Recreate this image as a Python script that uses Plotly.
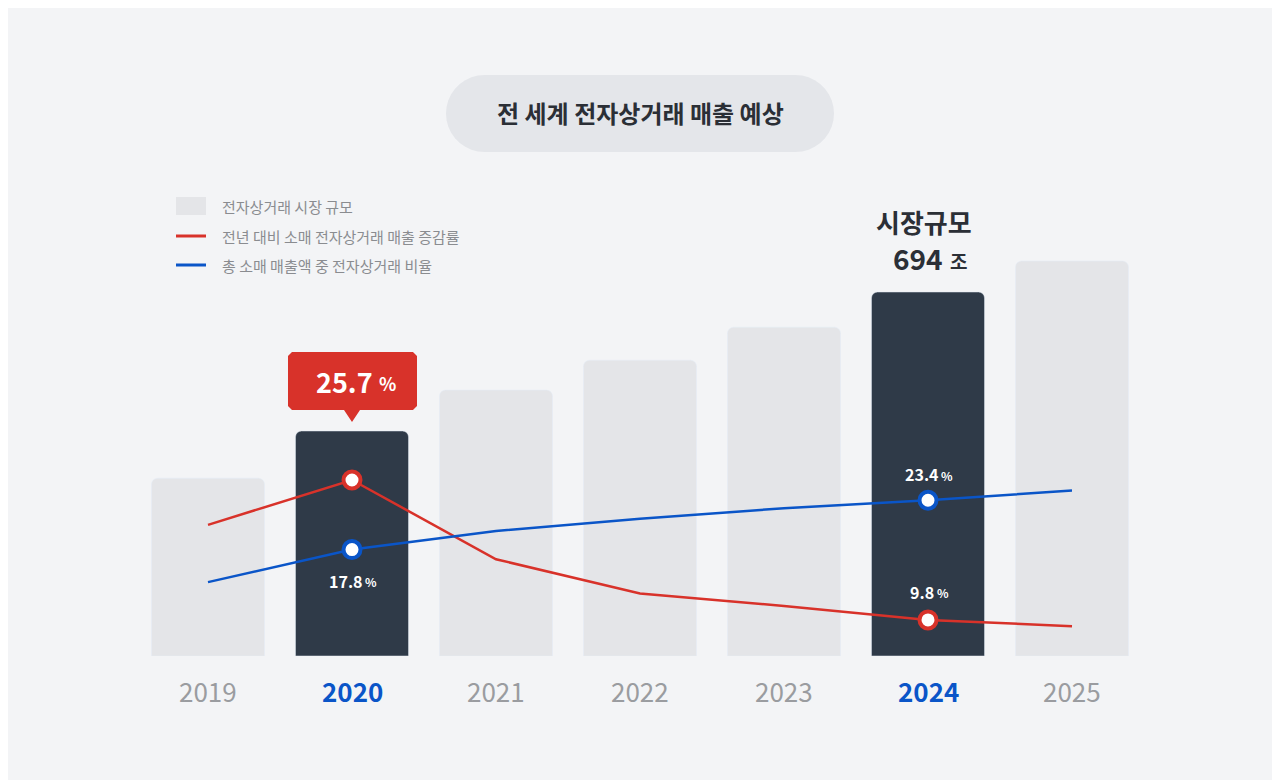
import math
import plotly.graph_objects as go

years = ["2019", "2020", "2021", "2022", "2023", "2024", "2025"]
market = [339, 429, 507, 564, 627, 694, 753]
growth = [20.6, 25.7, 16.7, 12.8, 11.4, 9.8, 9.1]
share = [14.1, 17.8, 19.9, 21.3, 22.5, 23.4, 24.5]
highlight = ["2020", "2024"]

BG = "#f3f4f6"; DARK = "#2f3a48"; LIGHT = "#e4e5e8"
RED = "#d8322a"; BLUE = "#0a55c8"; FONT = "Noto Sans CJK KR"; INK = "#2b2f36"

OFF = 8
W, H = 1280, 780
L, T = 136 - OFF, 150 - OFF
B = H + OFF - 656
R = W + OFF - 1144
PW, PH = W - L - R, H - T - B
def px(x): return (x - OFF - L) / PW
def py(y): return (H - B - (y - OFF)) / PH

fig = go.Figure()
fig.add_bar(x=years, y=market, marker=dict(color=[DARK if y in highlight else LIGHT for y in years], cornerradius=6),
            hoverinfo="skip")
fig.add_scatter(x=years, y=growth, yaxis="y2", mode="lines", line=dict(color=RED, width=2.5))
fig.add_scatter(x=years, y=share, yaxis="y2", mode="lines", line=dict(color=BLUE, width=2.5))
hi = [years.index(h) for h in highlight]
fig.add_scatter(x=[years[i] for i in hi], y=[growth[i] for i in hi], yaxis="y2", mode="markers",
                marker=dict(size=17, color="white", line=dict(color=RED, width=4)))
fig.add_scatter(x=[years[i] for i in hi], y=[share[i] for i in hi], yaxis="y2", mode="markers",
                marker=dict(size=17, color="white", line=dict(color=BLUE, width=4)))

ymax1 = market[5] * PH / 364
y2lo = 25.7 - 176 * 0.1136
y2hi = y2lo + PH * 0.1136

ann = []
def A(**k):
    k.setdefault("showarrow", False); k.setdefault("xanchor", "center"); k.setdefault("yanchor", "middle")
    ann.append(k)

for i, y in enumerate(years):
    hl = y in highlight
    A(x=i, y=py(690), yref="paper", text=f"<b>{y}</b>" if hl else y,
      font=dict(size=26, color=BLUE if hl else "#9a9ca0", family=FONT))

def pct_label(i, v, yref, yshift, size=16, small=12, color="white", xs=0, numw=None):
    s = str(v)
    w = numw if numw else 0.58 * size * len(s.replace(".", "")) + 0.3 * size
    A(x=i, y=v, yref=yref, yshift=yshift, xshift=xs - 6, xanchor="center", text=f"<b>{s}</b>",
      font=dict(size=size, color=color, family=FONT))
    A(x=i, y=v, yref=yref, yshift=yshift - 1, xshift=xs - 6 + w / 2 + 1, xanchor="left", text="<b>%</b>",
      font=dict(size=small, color=color, family=FONT))

pct_label(1, share[1], "y2", -31)
pct_label(5, share[5], "y2", 26)
pct_label(5, growth[5], "y2", 28)
# callout
A(x=px(344), y=py(381), xref="paper", yref="paper", text="<b>25.7</b>", font=dict(size=27, color="white", family=FONT))
A(x=px(377), y=py(383), xref="paper", yref="paper", xanchor="left", text="<b>%</b>", font=dict(size=18, color="white", family=FONT))
A(x=px(924), y=py(222), xref="paper", yref="paper", text="<b>시장규모</b>", font=dict(size=26, color=INK, family=FONT))
A(x=px(918), y=py(258), xref="paper", yref="paper", text="<b>694</b>", font=dict(size=28, color=INK, family=FONT))
A(x=px(948), y=py(260), xref="paper", yref="paper", xanchor="left", text="<b>조</b>", font=dict(size=19, color=INK, family=FONT))
A(x=px(640), y=py(112), xref="paper", yref="paper", text="<b>전 세계 전자상거래 매출 예상</b>", font=dict(size=24, color=INK, family=FONT))
for t, yy in [("전자상거래 시장 규모", 206), ("전년 대비 소매 전자상거래 매출 증감률", 236), ("총 소매 매출액 중 전자상거래 비율", 265)]:
    A(x=px(220), y=py(yy), xref="paper", yref="paper", xanchor="left", text=t, font=dict(size=15, color="#8a8c90", family=FONT))

def pill(x0, x1, y0, y1):
    r = (y1 - y0) / 2
    pts = []
    for k in range(19):
        a = math.pi / 2 + math.pi * k / 18
        pts.append((x0 + r + r * math.cos(a), y0 + r - r * math.sin(a)))
    for k in range(19):
        a = -math.pi / 2 + math.pi * k / 18
        pts.append((x1 - r + r * math.cos(a), y0 + r - r * math.sin(a)))
    return "M " + " L ".join(f"{px(a):.5f},{py(b):.5f}" for a, b in pts) + " Z"

callout = [(292, 352), (413, 352), (417, 356), (417, 406), (413, 410), (360, 410), (352, 422), (344, 410), (292, 410), (288, 406), (288, 356)]
shapes = [
    dict(type="path", xref="paper", yref="paper", path=pill(446, 834, 75, 152), fillcolor="#e4e6ea", line_width=0, layer="below"),
    dict(type="rect", xref="paper", yref="paper", x0=px(176), x1=px(206), y0=py(197), y1=py(215), fillcolor=LIGHT, line_width=0),
    dict(type="line", xref="paper", yref="paper", x0=px(176), x1=px(206), y0=py(236), y1=py(236), line=dict(color=RED, width=3)),
    dict(type="line", xref="paper", yref="paper", x0=px(176), x1=px(206), y0=py(265), y1=py(265), line=dict(color=BLUE, width=3)),
    dict(type="path", xref="paper", yref="paper", fillcolor=RED, line_width=0,
         path="M " + " L ".join(f"{px(a):.5f},{py(b):.5f}" for a, b in callout) + " Z"),
]

fig.update_layout(
    width=W, height=H, margin=dict(l=L, r=R, t=T, b=B), paper_bgcolor=BG, plot_bgcolor=BG,
    showlegend=False, bargap=0.215, annotations=ann, shapes=shapes,
    xaxis=dict(showticklabels=False, showgrid=False, zeroline=False, range=[-0.5, 6.5]),
    yaxis=dict(visible=False, range=[0, ymax1]),
    yaxis2=dict(visible=False, range=[y2lo, y2hi], overlaying="y"),
)
fig.write_html("out.html")
